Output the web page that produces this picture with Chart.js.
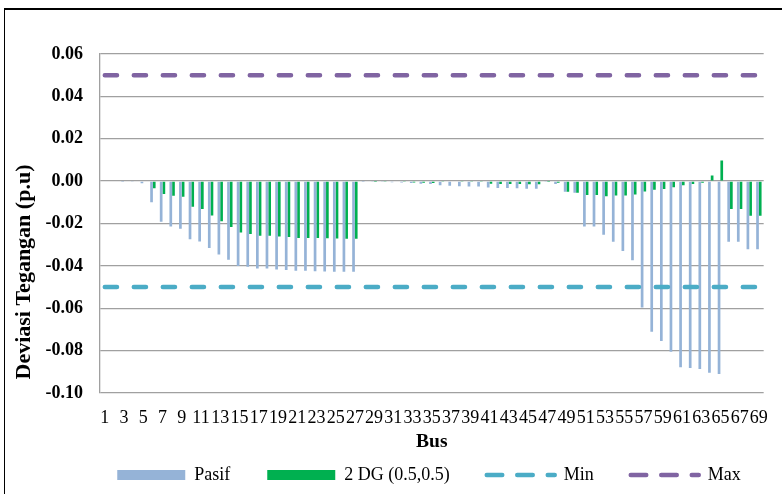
<!DOCTYPE html>
<html>
<head>
<meta charset="utf-8">
<script src="https://cdn.jsdelivr.net/npm/chart.js@4.4.1/dist/chart.umd.min.js"></script>
<style>
html, body { margin: 0; padding: 0; background: #fff; overflow: hidden; }
#wrap { position: relative; width: 782px; height: 494px; overflow: hidden; background: #fff; }
#frame { position: absolute; left: 4px; top: 8px; width: 2000px; height: 2000px;
         border-left: 1.5px solid #000; border-top: 2px solid #000; }
#c { position: absolute; left: 0; top: 0; }
</style>
</head>
<body>
<div id="wrap"><div id="frame"></div><canvas id="c" width="782" height="494"></canvas></div>
<script>
// ---------------- data ----------------
const buses = [1,2,3,4,5,6,7,8,9,10,11,12,13,14,15,16,17,18,19,20,21,22,23,24,25,26,27,28,29,30,
  31,32,33,34,35,36,37,38,39,40,41,42,43,44,45,46,47,48,49,50,51,52,53,54,55,56,57,58,59,60,
  61,62,63,64,65,66,67,68,69];

const pasif = [0, 0, -0.0001, -0.0002, -0.0010, -0.0100, -0.0192, -0.0214, -0.0225, -0.0274,
  -0.0285, -0.0316, -0.0346, -0.0371, -0.0401, -0.0404, -0.0412, -0.0412, -0.0417, -0.0420,
  -0.0423, -0.0423, -0.0425, -0.0426, -0.0428, -0.0428, -0.0428, -0.0001, -0.0002, -0.0004,
  -0.0005, -0.0006, -0.0009, -0.0012, -0.0013, -0.0020, -0.0022, -0.0024, -0.0025, -0.0025,
  -0.0030, -0.0032, -0.0033, -0.0034, -0.0036, -0.0036, -0.0002, -0.0014, -0.0050, -0.0055,
  -0.0214, -0.0214, -0.0253, -0.0286, -0.0330, -0.0374, -0.0597, -0.0711, -0.0755, -0.0805,
  -0.0878, -0.0882, -0.0887, -0.0904, -0.0910, -0.0286, -0.0286, -0.0322, -0.0322];

const dg2 = [0, 0, 0, 0, -0.0003, -0.0034, -0.0061, -0.0069, -0.0074, -0.0121,
  -0.0131, -0.0162, -0.0189, -0.0216, -0.0242, -0.0249, -0.0258, -0.0258, -0.0261, -0.0264,
  -0.0268, -0.0268, -0.0269, -0.0270, -0.0271, -0.0272, -0.0272, 0, -0.0001, -0.0002,
  -0.0003, -0.0004, -0.0006, -0.0008, -0.0009, -0.0002, -0.0003, -0.0004, -0.0004, -0.0004,
  -0.0012, -0.0014, -0.0014, -0.0014, -0.0015, -0.0015, -0.0001, -0.0008, -0.0050, -0.0055,
  -0.0066, -0.0066, -0.0071, -0.0068, -0.0068, -0.0063, -0.0049, -0.0041, -0.0037, -0.0029,
  -0.0019, -0.0014, -0.0008, 0.0026, 0.0097, -0.0132, -0.0132, -0.0164, -0.0164];

const minLimit = -0.05;
const maxLimit = 0.05;

const seriesNames = ['Pasif', '2 DG (0.5,0.5)', 'Min', 'Max'];
const yTicks = { min: -0.10, max: 0.06, step: 0.02 };
const xLabelEvery = 2;
const xTitle = 'Bus';
const yTitle = 'Deviasi Tegangan (p.u)';

// ---------------- styling ----------------
const FONT = '"Liberation Serif", "Times New Roman", serif';
const colors = { pasif: '#95B3D7', dg: '#00B050', min: '#4BACC6', max: '#8064A2', grid: '#a0a0a0' };
const ref = { yTitleX: 24.5, yTitleY: 272, legendRowY: 475, legendCenterX: 429 };

Chart.defaults.font.family = FONT;
Chart.defaults.color = '#000';

const customPlugin = {
  id: 'customPlacement',
  afterLayout(chart) {
    const lg = chart.legend;
    if (!lg) return;
    const pad = lg.options.labels.padding;
    const fs = lg.options.labels.font.size;
    lg.top = ref.legendRowY - fs / 2 - pad;
    lg.bottom = chart.height;
    lg.height = lg.bottom - lg.top;
    const dx = ref.legendCenterX - (lg.left + lg.right) / 2;
    lg.left += dx;
    lg.right += dx;
  },
  afterDraw(chart) {
    const ctx = chart.ctx;
    ctx.save();
    ctx.translate(ref.yTitleX, ref.yTitleY);
    ctx.rotate(-Math.PI / 2);
    ctx.font = 'bold 22px ' + FONT;
    ctx.fillStyle = '#000';
    ctx.textAlign = 'center';
    ctx.textBaseline = 'middle';
    ctx.fillText(yTitle, 0, 0);
    ctx.restore();
  }
};

const lineDash = [12.2, 16.8];
const legendDash = [15.5, 15];

new Chart(document.getElementById('c'), {
  type: 'bar',
  data: {
    labels: buses,
    datasets: [
      { label: seriesNames[0], data: pasif, backgroundColor: colors.pasif, borderWidth: 0,
        categoryPercentage: 0.56, barPercentage: 1.0, order: 2 },
      { label: seriesNames[1], data: dg2, backgroundColor: colors.dg, borderWidth: 0,
        categoryPercentage: 0.56, barPercentage: 1.0, order: 2 },
      { type: 'line', label: seriesNames[2], data: buses.map(() => minLimit),
        borderColor: colors.min, backgroundColor: colors.min, borderWidth: 4.5,
        borderDash: lineDash, borderCapStyle: 'round', pointRadius: 0, fill: false, order: 1 },
      { type: 'line', label: seriesNames[3], data: buses.map(() => maxLimit),
        borderColor: colors.max, backgroundColor: colors.max, borderWidth: 4.5,
        borderDash: lineDash, borderCapStyle: 'round', pointRadius: 0, fill: false, order: 1 }
    ]
  },
  options: {
    responsive: false,
    animation: false,
    devicePixelRatio: 1,
    layout: { padding: { left: 28.5, right: 18, top: 54, bottom: 0 } },
    plugins: {
      tooltip: { enabled: false },
      legend: {
        position: 'bottom',
        maxHeight: 38,
        labels: {
          usePointStyle: true,
          pointStyleWidth: 68,
          boxHeight: 10,
          padding: 37,
          color: '#000',
          font: { family: FONT, size: 18 },
          generateLabels(chart) {
            return chart.data.datasets.map((ds, i) => {
              const isLine = ds.type === 'line';
              return {
                text: ds.label,
                datasetIndex: i,
                fillStyle: isLine ? 'rgba(0,0,0,0)' : ds.backgroundColor,
                strokeStyle: isLine ? ds.borderColor : ds.backgroundColor,
                lineWidth: isLine ? 4.5 : 0,
                lineDash: isLine ? legendDash : [],
                lineCap: 'round',
                pointStyle: isLine ? 'line' : 'rect',
                hidden: false,
                fontColor: '#000'
              };
            });
          }
        }
      }
    },
    scales: {
      x: {
        grid: { display: false, drawTicks: false },
        border: { display: false },
        ticks: {
          autoSkip: false, maxRotation: 0, minRotation: 0, padding: 14,
          font: { family: FONT, size: 18 }, color: '#000',
          callback: (v, i) => (i % xLabelEvery === 0 ? String(buses[i]) : '')
        },
        title: { display: true, text: xTitle, color: '#000',
                 font: { family: FONT, size: 19.5, weight: 'bold' },
                 padding: { top: -12, bottom: 2 } }
      },
      y: {
        min: yTicks.min, max: yTicks.max,
        grid: { color: colors.grid, lineWidth: 1.3, drawTicks: false },
        border: { display: true, color: colors.grid, width: 1.3 },
        ticks: {
          stepSize: yTicks.step, padding: 17, color: '#000',
          font: { family: FONT, size: 18, weight: 'bold' },
          callback: (v) => (Math.abs(v) < 1e-9 ? '0.00' : Number(v).toFixed(2))
        }
      }
    }
  },
  plugins: [customPlugin]
});
</script>
</body>
</html>
